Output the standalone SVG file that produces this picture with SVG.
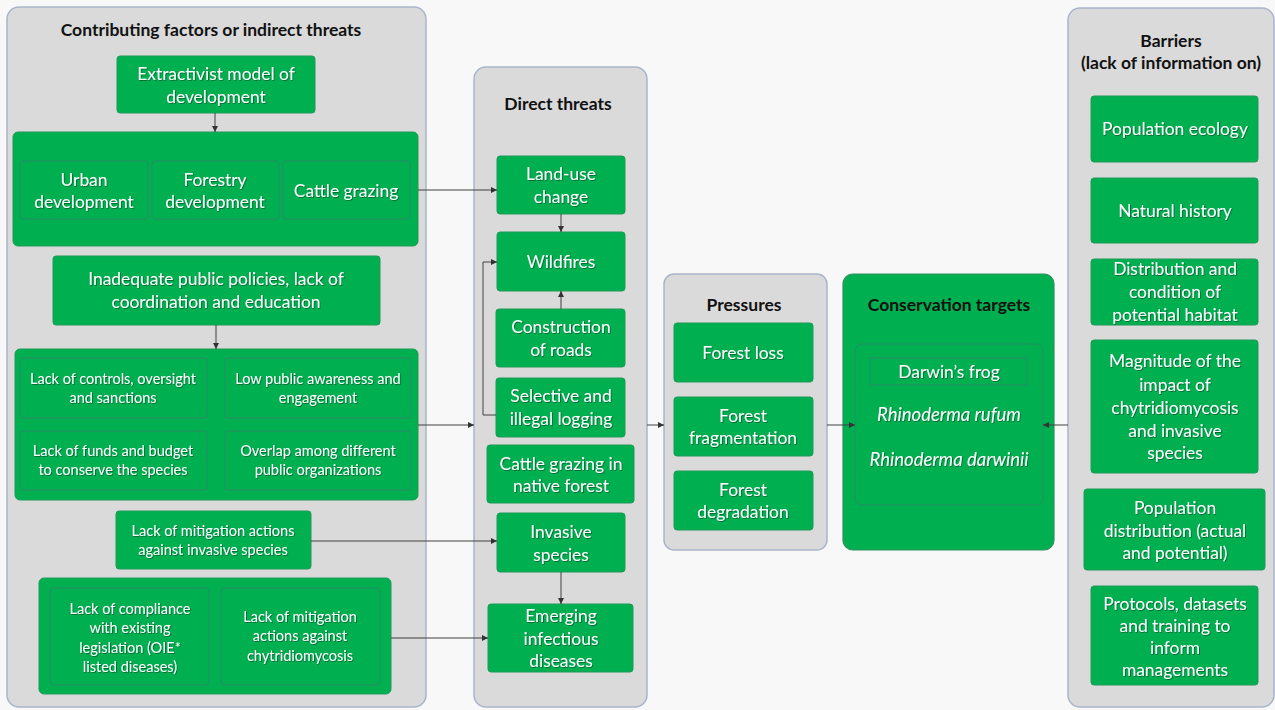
<svg xmlns="http://www.w3.org/2000/svg" width="1275" height="710" viewBox="0 0 1275 710">
<defs>
<marker id="ah" viewBox="0 0 10 10" refX="10" refY="5" markerWidth="6" markerHeight="6" markerUnits="userSpaceOnUse" orient="auto">
<path d="M0,0 L10,5 L0,10 z" fill="#333"/>
</marker>
<filter id="sh" x="-5%" y="-20%" width="110%" height="140%">
<feDropShadow dx="0.8" dy="0.8" stdDeviation="0.6" flood-color="#000" flood-opacity="0.45"/>
</filter>
</defs>
<style>
.panel{fill:#dadada;stroke:#a9b4cc;stroke-width:1.5}
.g{fill:#00b050;stroke:#1f9a5a;stroke-width:1}
.gi{fill:#00b050;stroke:#2a8a66;stroke-width:1}
text{font-family:Lato,"Liberation Sans",sans-serif;text-anchor:middle}
.t{fill:#fff;font-size:17.4px;filter:url(#sh)}
.s{fill:#fff;font-size:14.5px;filter:url(#sh)}
.h{fill:#111;font-size:17.5px;font-weight:bold}
.i{font-style:italic;font-size:18.5px}
.c{fill:none;stroke:#404040;stroke-width:1;marker-end:url(#ah)}
</style>
<rect width="1275" height="710" fill="#f8f8f8"/>

<g id="panel-contributing">
<rect class="panel" x="7" y="7" width="419" height="700" rx="12"/>
<text class="h" x="211" y="36">Contributing factors or indirect threats</text>
</g>
<g id="extractivist">
<rect class="g" x="117" y="56" width="198" height="57" rx="3"/>
<text class="t" x="216" y="80">Extractivist model of</text>
<text class="t" x="216" y="103">development</text>
</g>
<g id="development-group">
<rect class="g" x="13" y="132" width="405" height="114" rx="5"/>
<rect class="gi" x="20" y="161" width="128" height="58" rx="3"/>
<text class="t" x="84" y="186">Urban</text>
<text class="t" x="84" y="208">development</text>
<rect class="gi" x="152" y="161" width="127" height="58" rx="3"/>
<text class="t" x="215" y="186">Forestry</text>
<text class="t" x="215" y="208">development</text>
<rect class="gi" x="283" y="161" width="127" height="58" rx="3"/>
<text class="t" x="346" y="197">Cattle grazing</text>
</g>
<g id="inadequate">
<rect class="g" x="53" y="256" width="327" height="69" rx="3"/>
<text class="t" x="216" y="285">Inadequate public policies, lack of</text>
<text class="t" x="216" y="308">coordination and education</text>
</g>
<g id="policy-group">
<rect class="g" x="15" y="349" width="403" height="151" rx="5"/>
<rect class="gi" x="20" y="358" width="187" height="60" rx="3"/>
<text class="s" x="113" y="384">Lack of controls, oversight</text>
<text class="s" x="113" y="403">and sanctions</text>
<rect class="gi" x="225" y="358" width="186" height="60" rx="3"/>
<text class="s" x="318" y="384">Low public awareness and</text>
<text class="s" x="318" y="403">engagement</text>
<rect class="gi" x="20" y="431" width="187" height="59" rx="3"/>
<text class="s" x="113" y="456">Lack of funds and budget</text>
<text class="s" x="113" y="475">to conserve the species</text>
<rect class="gi" x="225" y="431" width="186" height="59" rx="3"/>
<text class="s" x="318" y="456">Overlap among different</text>
<text class="s" x="318" y="475">public organizations</text>
</g>
<g id="mitigation-invasive">
<rect class="g" x="116" y="511" width="195" height="58" rx="3"/>
<text class="s" x="213" y="536">Lack of mitigation actions</text>
<text class="s" x="213" y="555">against invasive species</text>
</g>
<g id="disease-group">
<rect class="g" x="39" y="578" width="352" height="116" rx="5"/>
<rect class="gi" x="50" y="588" width="159" height="97" rx="4"/>
<text class="s" x="130" y="614">Lack of compliance</text>
<text class="s" x="130" y="633">with existing</text>
<text class="s" x="130" y="653">legislation (OIE*</text>
<text class="s" x="130" y="672">listed diseases)</text>
<rect class="gi" x="221" y="588" width="159" height="97" rx="4"/>
<text class="s" x="300" y="622">Lack of mitigation</text>
<text class="s" x="300" y="641">actions against</text>
<text class="s" x="300" y="661">chytridiomycosis</text>
</g>

<g id="panel-direct">
<rect class="panel" x="474" y="67" width="173" height="640" rx="12"/>
<text class="h" x="558" y="110">Direct threats</text>
</g>
<g id="land-use">
<rect class="g" x="497" y="156" width="128" height="58" rx="3"/>
<text class="t" x="561" y="180">Land-use</text>
<text class="t" x="561" y="203">change</text>
</g>
<g id="wildfires">
<rect class="g" x="497" y="232" width="128" height="59" rx="3"/>
<text class="t" x="561" y="268">Wildfires</text>
</g>
<g id="roads">
<rect class="g" x="496" y="309" width="129" height="58" rx="3"/>
<text class="t" x="561" y="333">Construction</text>
<text class="t" x="561" y="356">of roads</text>
</g>
<g id="logging">
<rect class="g" x="496" y="378" width="129" height="59" rx="3"/>
<text class="t" x="561" y="402">Selective and</text>
<text class="t" x="561" y="425">illegal logging</text>
</g>
<g id="cattle-native">
<rect class="g" x="487" y="445" width="147" height="58" rx="3"/>
<text class="t" x="561" y="470">Cattle grazing in</text>
<text class="t" x="561" y="492">native forest</text>
</g>
<g id="invasive">
<rect class="g" x="497" y="513" width="128" height="59" rx="3"/>
<text class="t" x="561" y="538">Invasive</text>
<text class="t" x="561" y="561">species</text>
</g>
<g id="emerging">
<rect class="g" x="488" y="604" width="145" height="68" rx="3"/>
<text class="t" x="561" y="622">Emerging</text>
<text class="t" x="561" y="645">infectious</text>
<text class="t" x="561" y="667">diseases</text>
</g>

<g id="panel-pressures">
<rect class="panel" x="664" y="274" width="163" height="276" rx="10"/>
<text class="h" x="744" y="311">Pressures</text>
</g>
<g id="forest-loss">
<rect class="g" x="674" y="323" width="139" height="59" rx="3"/>
<text class="t" x="743" y="359">Forest loss</text>
</g>
<g id="forest-fragmentation">
<rect class="g" x="674" y="397" width="139" height="59" rx="3"/>
<text class="t" x="743" y="422">Forest</text>
<text class="t" x="743" y="444">fragmentation</text>
</g>
<g id="forest-degradation">
<rect class="g" x="674" y="471" width="139" height="59" rx="3"/>
<text class="t" x="743" y="496">Forest</text>
<text class="t" x="743" y="518">degradation</text>
</g>

<g id="conservation-targets">
<rect x="843" y="274" width="211" height="276" rx="10" fill="#00b050" stroke="#2f8f5f" stroke-width="1.2"/>
<text class="h" x="949" y="311">Conservation targets</text>
<rect x="855" y="344" width="188" height="161" rx="7" fill="none" stroke="#2a8a66" stroke-width="1"/>
<rect x="870" y="358" width="157" height="27" fill="none" stroke="#2a8a66" stroke-width="1"/>
<text class="t" x="949" y="378">Darwin’s frog</text>
<text class="t i" x="949" y="421">Rhinoderma rufum</text>
<text class="t i" x="949" y="466">Rhinoderma darwinii</text>
</g>

<g id="panel-barriers">
<rect class="panel" x="1068" y="8" width="206" height="699" rx="12"/>
<text class="h" x="1171" y="47">Barriers</text>
<text class="h" x="1171" y="69">(lack of information on)</text>
</g>
<g id="population-ecology">
<rect class="g" x="1091" y="96" width="167" height="66" rx="3"/>
<text class="t" x="1175" y="135">Population ecology</text>
</g>
<g id="natural-history">
<rect class="g" x="1091" y="178" width="167" height="65" rx="3"/>
<text class="t" x="1175" y="217">Natural history</text>
</g>
<g id="distribution-habitat">
<rect class="g" x="1091" y="259" width="167" height="66" rx="3"/>
<text class="t" x="1175" y="275">Distribution and</text>
<text class="t" x="1175" y="298">condition of</text>
<text class="t" x="1175" y="321">potential habitat</text>
</g>
<g id="magnitude">
<rect class="g" x="1091" y="340" width="167" height="133" rx="3"/>
<text class="t" x="1175" y="367">Magnitude of the</text>
<text class="t" x="1175" y="391">impact of</text>
<text class="t" x="1175" y="414">chytridiomycosis</text>
<text class="t" x="1175" y="437">and invasive</text>
<text class="t" x="1175" y="459">species</text>
</g>
<g id="population-distribution">
<rect class="g" x="1084" y="489" width="181" height="81" rx="3"/>
<text class="t" x="1175" y="514">Population</text>
<text class="t" x="1175" y="537">distribution (actual</text>
<text class="t" x="1175" y="559">and potential)</text>
</g>
<g id="protocols">
<rect class="g" x="1091" y="586" width="167" height="99" rx="3"/>
<text class="t" x="1175" y="610">Protocols, datasets</text>
<text class="t" x="1175" y="632">and training to</text>
<text class="t" x="1175" y="654">inform</text>
<text class="t" x="1175" y="676">managements</text>
</g>

<g id="connectors">
<path class="c" d="M215,113 V132"/>
<path class="c" d="M418,190 H497"/>
<path class="c" d="M216,325 V349"/>
<path class="c" d="M418,425 H474"/>
<path class="c" d="M311,541 H497"/>
<path class="c" d="M391,638 H488"/>
<path class="c" d="M561,214 V232"/>
<path class="c" d="M561,309 V291"/>
<path class="c" d="M496,415 H483 V262 H497"/>
<path class="c" d="M561,572 V604"/>
<path class="c" d="M647,425 H664"/>
<path class="c" d="M827,425 H855"/>
<path class="c" d="M1068,425 H1043"/>
</g>
</svg>
